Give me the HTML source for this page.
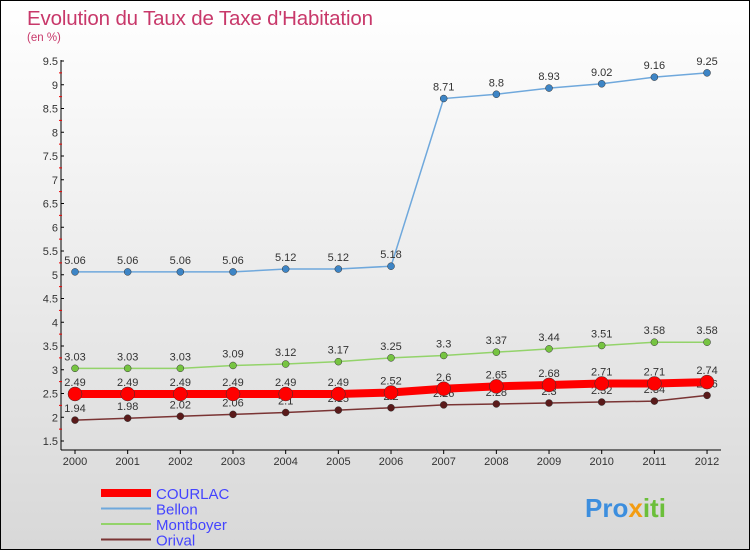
<!DOCTYPE html>
<html><head><meta charset="utf-8"><style>
body{margin:0}
#c{width:748px;height:548px;border:1px solid #000;background:linear-gradient(#fff,#d8d8d8);position:relative;font-family:"Liberation Sans",sans-serif;overflow:hidden}
</style></head><body>
<div id="c">
<svg id="s" width="748" height="548"></svg>
</div>
<script>
const years=[2000,2001,2002,2003,2004,2005,2006,2007,2008,2009,2010,2011,2012];
const courlac=[2.49,2.49,2.49,2.49,2.49,2.49,2.52,2.6,2.65,2.68,2.71,2.71,2.74];
const bellon=[5.06,5.06,5.06,5.06,5.12,5.12,5.18,8.71,8.8,8.93,9.02,9.16,9.25];
const montboyer=[3.03,3.03,3.03,3.09,3.12,3.17,3.25,3.3,3.37,3.44,3.51,3.58,3.58];
const orival=[1.94,1.98,2.02,2.06,2.1,2.15,2.2,2.26,2.28,2.3,2.32,2.34,2.46];
const yTicks=[1.5,2,2.5,3,3.5,4,4.5,5,5.5,6,6.5,7,7.5,8,8.5,9,9.5];
const NS="http://www.w3.org/2000/svg",s=document.getElementById('s');
const X=i=>74+i*52.67, Y=v=>60+(9.5-v)*47.5;
function el(t,a,txt){const e=document.createElementNS(NS,t);for(const k in a)e.setAttribute(k,a[k]);if(txt!==undefined)e.textContent=txt;s.appendChild(e);return e;}
let e;
e=el('text',{x:26,y:24,fill:'#c8386a','font-size':20.5,textLength:346},'Evolution du Taux de Taxe d\'Habitation');


e=el('text',{x:26,y:40,fill:'#c8386a','font-size':11.5},'(en %)');


e=el('line',{x1:60,y1:59,x2:60,y2:449,stroke:'#000'});


e=el('line',{x1:60,y1:449,x2:720,y2:449,stroke:'#000'});


yTicks.forEach((v,i)=>{el('line',{x1:60,y1:Y(v),x2:63,y2:Y(v),stroke:'#000'});
 if(i<yTicks.length-1)el('line',{x1:58,y1:Y(v+0.25),x2:61,y2:Y(v+0.25),stroke:'#e00'});
 e=el('text',{x:57,y:Y(v)+4,'text-anchor':'end','font-size':11,fill:'#333'},String(v));
 
 });
years.forEach((y,i)=>{el('line',{x1:X(i),y1:449,x2:X(i),y2:453,stroke:'#000'});
 e=el('text',{x:X(i),y:464,'text-anchor':'middle','font-size':11,fill:'#333'},String(y));
 
 });
function series(d,col,w,r,name,dotcol){
 e=el('polyline',{points:d.map((v,i)=>X(i)+','+Y(v)).join(' '),fill:'none',stroke:col,'stroke-width':w});
 
 
 d.forEach((v,i)=>{e=el('circle',{cx:X(i),cy:Y(v),r:r,fill:dotcol,stroke:'#333','stroke-width':0.5});
  
  
  e=el('text',{x:X(i),y:Y(v)-8,'text-anchor':'middle','font-size':11,fill:'#333'},String(v));
  
  });
}
series(bellon,'#6fa8dc',1.5,3.5,'bellon','#3d85c6');
series(montboyer,'#93d36a',1.5,3.5,'montboyer','#76c441');
series(orival,'#7a3434',1.5,3.5,'orival','#5a1a1a');
series(courlac,'#f00',8,7,'courlac','#f00');
const leg=[['COURLAC','#f00',8],['Bellon','#6fa8dc',2],['Montboyer','#93d36a',2],['Orival','#7a3434',2]];
leg.forEach((l,i)=>{const y=492+i*15.5;
 e=el('line',{x1:100,y1:y,x2:150,y2:y,stroke:l[1],'stroke-width':l[2]});
 
 
 e=el('text',{x:155,y:y+6,'font-size':15,fill:'#44f'},l[0]);
 
 });
e=el('text',{x:584,y:516,'font-size':26,'font-weight':'bold'});


e.innerHTML='<tspan fill="#3c8ede">Pro</tspan><tspan fill="#f39c12">x</tspan><tspan fill="#6bbf3a">iti</tspan>';
</script>
</body></html>
